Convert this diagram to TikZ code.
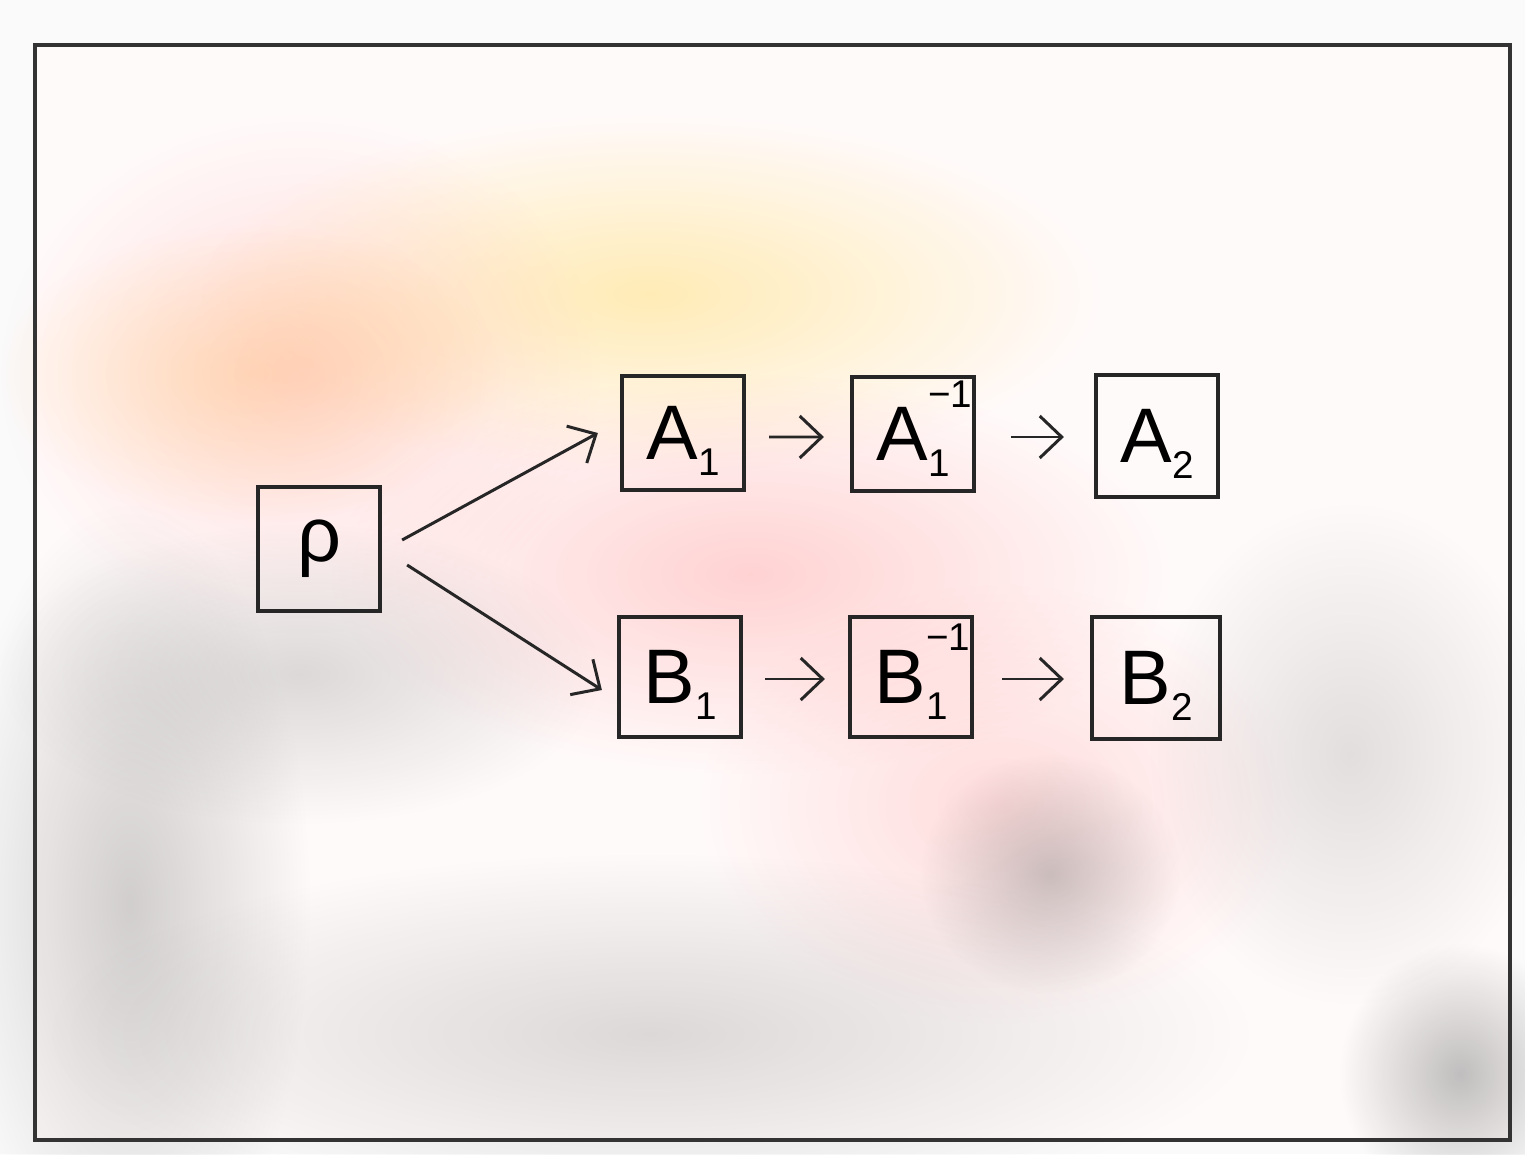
\documentclass[tikz,border=0pt]{standalone}
\usepackage{fontspec}
\setmainfont{Liberation Sans}
\usetikzlibrary{arrows.meta,fadings}
\tikzfading[name=softfade, inner color=transparent!10, outer color=transparent!100]
\newcommand\mysub[1]{\smash{\raisebox{-0.4ex}{\fontsize{11}{12}\selectfont #1}}}
\newcommand\mysup[1]{\rlap{\smash{\raisebox{1.3ex}{\fontsize{11}{12}\selectfont #1}}}}
\tikzset{
  box/.style={draw=black!85, line width=1.2pt, minimum width=1.22cm, minimum height=1.14cm, inner sep=0pt, font=\fontsize{22}{26}\selectfont},
  arr/.style={draw=black!85, line width=0.85pt, -{Straight Barb[length=2.2mm,width=4.2mm,line width=0.85pt]}},
  blob/.style={path fading=softfade, draw=none}
}
\begin{document}
\begin{tikzpicture}
\useasboundingbox (0,0) rectangle (15.25,11.54);
\fill[white!96!gray] (0,0) rectangle (15.25,11.54);
\fill[white!98!red] (0.35,0.14) rectangle (15.10,11.09);
% soft pencil colouring
\fill[blob, fill=orange!45!yellow, fill opacity=0.3] (6.5,8.6) ellipse (4.5cm and 1.8cm);
\fill[blob, fill=orange!60!yellow, fill opacity=0.25] (2.5,7.8) ellipse (2.5cm and 1.5cm);
\fill[blob, fill=red!40, fill opacity=0.35] (3.0,7.8) ellipse (3.0cm and 2.6cm);
\fill[blob, fill=red!40, fill opacity=0.45] (7.5,5.8) ellipse (4.2cm and 2.0cm);
\fill[blob, fill=red!40, fill opacity=0.35] (10.0,3.5) ellipse (3.0cm and 2.2cm);
\fill[blob, fill=gray, fill opacity=0.4] (1.3,2.5) ellipse (1.8cm and 4.0cm);
\fill[blob, fill=gray, fill opacity=0.3] (6.5,1.2) ellipse (6.0cm and 1.8cm);
\fill[blob, fill=gray, fill opacity=0.45] (10.5,2.8) ellipse (1.3cm and 1.2cm);
\fill[blob, fill=gray, fill opacity=0.55] (14.6,0.8) ellipse (1.2cm and 1.3cm);
\fill[blob, fill=gray, fill opacity=0.25] (13.5,4.0) ellipse (2.0cm and 2.5cm);
\fill[blob, fill=gray, fill opacity=0.3] (3.0,4.8) ellipse (3.0cm and 1.5cm);
% frame
\draw[black!80, line width=0.9pt] (0.35,0.14) rectangle (15.10,11.09);
% nodes
\node[box, minimum height=1.24cm] (rho) at (3.19,6.05) {ρ};
\node[box] (A1)  at (6.83,7.21) {A\mysub{1}};
\node[box] (A1i) at (9.13,7.20) {A\mysup{−1}\mysub{1}};
\node[box, minimum height=1.22cm] (A2) at (11.57,7.18) {A\mysub{2}};
\node[box, minimum height=1.2cm] (B1)  at (6.80,4.77) {B\mysub{1}};
\node[box, minimum height=1.2cm] (B1i) at (9.11,4.77) {B\mysup{−1}\mysub{1}};
\node[box, minimum height=1.22cm, minimum width=1.28cm] (B2) at (11.56,4.76) {B\mysub{2}};
% connectors
\draw[arr] ([shift={(0.2,0.09)}]rho.east) -- ([shift={(-0.22,0)}]A1.west);
\draw[arr] ([shift={(0.25,-0.16)}]rho.east) -- ([shift={(-0.15,-0.13)}]B1.west);
\draw[arr, shorten <=0.23cm, shorten >=0.26cm] ([yshift=-0.04cm]A1.east) -- ([yshift=-0.03cm]A1i.west);
\draw[arr, shorten <=0.35cm, shorten >=0.3cm] ([yshift=-0.03cm]A1i.east) -- ([yshift=-0.01cm]A2.west);
\draw[arr, shorten <=0.22cm, shorten >=0.23cm] ([yshift=-0.02cm]B1.east) -- ([yshift=-0.02cm]B1i.west);
\draw[arr, shorten <=0.28cm, shorten >=0.26cm] ([yshift=-0.02cm]B1i.east) -- ([yshift=-0.01cm]B2.west);
\end{tikzpicture}
\end{document}
